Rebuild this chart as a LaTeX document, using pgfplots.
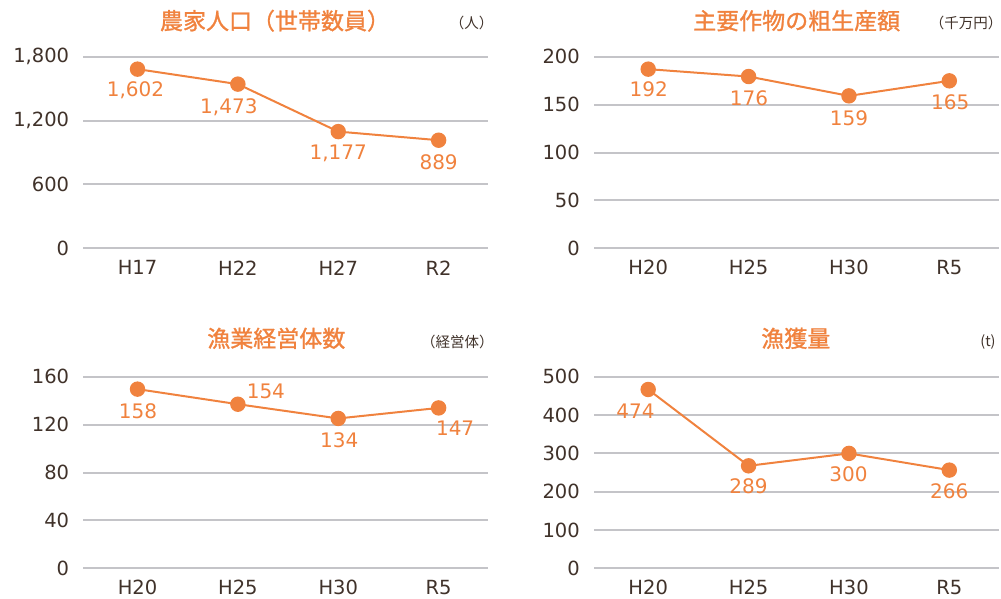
\documentclass[border=0pt]{standalone}
\usepackage{fontspec}
\setmainfont{DejaVu Sans}
\newfontfamily\cjk{Noto Sans CJK JP}
\newfontfamily\cjkm[FakeBold=1.2]{Noto Sans CJK JP}
\usepackage{pgfplots}
\pgfplotsset{compat=1.18}
\usepackage{pgfplotstable}
\definecolor{org}{HTML}{F0823E}
\definecolor{txt}{HTML}{40322A}
\definecolor{grd}{HTML}{C4C4C8}

% x  y  label  dx  dy  (dx, dy: label offset in pt)
\pgfplotstableread{
x y lab dx dy
0 1684 1,602 -2 -21.5
1 1543 1,473 -9 -22.7
2 1097 1,177 0 -22
3 1016 889 0 -22
}\dataA
\pgfplotstableread{
x y lab dx dy
0 187.1 192 0.5 -20
1 179.4 176 0.5 -21.3
2 159.2 159 0 -22
3 174.9 165 1 -21
}\dataB
\pgfplotstableread{
x y lab dx dy
0 149.7 158 0.5 -21.7
1 137.1 154 28 13.3
2 125.2 134 1 -21.3
3 134.0 147 16.5 -20.3
}\dataC
\pgfplotstableread{
x y lab dx dy
0 466.9 474 -12.7 -21.5
1 267.6 289 0 -20.7
2 300.0 300 -0.5 -21.3
3 256.4 266 0 -20.8
}\dataD

\pgfplotsset{panel/.style={
  scale only axis, width=404.5pt, height=191.5pt,
  anchor=south west,
  xmin=-0.54, xmax=3.49, ymin=0,
  axis line style={draw=none}, major tick length=0pt,
  ymajorgrids, grid style={grd, line width=2pt},
  xtick={0,1,2,3},
  ticklabel style={font=\fontsize{19.5}{20}\selectfont, text=txt},
  yticklabel style={anchor=east, inner sep=0pt, xshift=-14pt},
  xticklabel style={anchor=center, inner sep=0pt, yshift=-19.5pt},
  clip=false,
  visualization depends on={\thisrow{dx}\as\dx},
  visualization depends on={\thisrow{dy}\as\dy},
  nodes near coords, point meta=explicit symbolic,
  nodes near coords style={anchor=center, inner sep=0pt, xshift=\dx pt, yshift=\dy pt,
    font=\fontsize{20}{20}\selectfont, text=org},
}}
\pgfplotsset{ser/.style={org, line width=2pt, mark=*, mark size=6.7pt,
  mark options={draw=none, fill=org}}}
\tikzset{ttl/.style={text=org, font=\cjkm\fontsize{23}{23}\selectfont},
  unit/.style={text=txt, font=\cjk\fontsize{14.5}{15}\selectfont, inner sep=0pt}}

\begin{document}
\begin{tikzpicture}
\path[use as bounding box] (0,0) rectangle (1001pt,-599pt);

% Panel 1
\begin{axis}[panel, at={(83.3pt,-248.3pt)}, ymax=1800,
  ytick={0,600,1200,1800}, yticklabels={0,600,{1,200},{1,800}},
  xticklabels={H17,H22,H27,R2}]
\addplot[ser] table[x=x,y=y,meta=lab]{\dataA};
\end{axis}
\node[ttl] at (275pt,-20.7pt) {農家人口（世帯数員）};
\node[unit] at (471.7pt,-23.3pt) {（人）};

% Panel 2
\begin{axis}[panel, at={(594pt,-248.3pt)}, ymax=200,
  ytick={0,50,100,150,200}, yticklabels={0,50,100,150,200},
  xticklabels={H20,H25,H30,R5}]
\addplot[ser] table[x=x,y=y,meta=lab]{\dataB};
\end{axis}
\node[ttl] at (796.7pt,-20.7pt) {主要作物の粗生産額};
\node[unit] at (966pt,-23.3pt) {（千万円）};

% Panel 3
\begin{axis}[panel, at={(83.3pt,-568.3pt)}, ymax=160,
  ytick={0,40,80,120,160}, yticklabels={0,40,80,120,160},
  xticklabels={H20,H25,H30,R5}]
\addplot[ser] table[x=x,y=y,meta=lab]{\dataC};
\end{axis}
\node[ttl] at (276.3pt,-338.3pt) {漁業経営体数};
\node[unit] at (457.3pt,-341.7pt) {（経営体）};

% Panel 4
\begin{axis}[panel, at={(594pt,-568.3pt)}, ymax=500,
  ytick={0,100,200,300,400,500}, yticklabels={0,100,200,300,400,500},
  xticklabels={H20,H25,H30,R5}]
\addplot[ser] table[x=x,y=y,meta=lab]{\dataD};
\end{axis}
\node[ttl] at (795.8pt,-338.3pt) {漁獲量};
\node[unit] at (988pt,-341.7pt) {(t)};
\end{tikzpicture}
\end{document}
